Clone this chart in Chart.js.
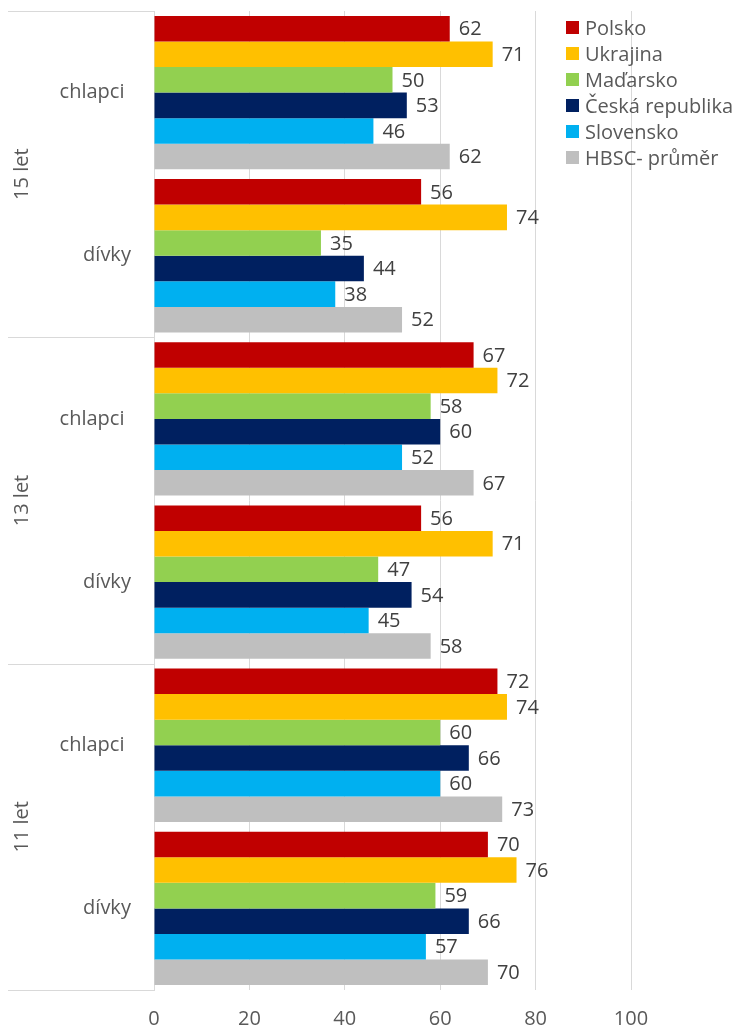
<!DOCTYPE html>
<html>
<head>
<meta charset="utf-8">
<script src="https://cdn.jsdelivr.net/npm/chart.js@4/dist/chart.umd.min.js"></script>
<style>
  html, body { margin: 0; padding: 0; background: #fff; }
  #wrap { position: relative; width: 740px; height: 1032px; }
  #legend { position: absolute; left: 566px; top: 14px; font-family: 'Open Sans', sans-serif; font-size: 20px; color: #595959; }
  #legend div { display: flex; align-items: center; height: 26px; white-space: nowrap; }
  #legend span.box { display: inline-block; width: 13px; height: 13px; margin-right: 6px; }
</style>
</head>
<body>
<div id="wrap">
  <canvas id="chart" width="740" height="1032"></canvas>
  <div id="legend"></div>
</div>
<script>
// Kategorie (shora dolů) a skupiny
const categories = ['chlapci', 'dívky', 'chlapci', 'dívky', 'chlapci', 'dívky'];
const groups = ['15 let', '13 let', '11 let'];
const xTicks = [0, 20, 40, 60, 80, 100];

// Hodnoty podle zemí
const polsko = [62, 56, 67, 56, 72, 70];
const ukrajina = [71, 74, 72, 71, 74, 76];
const madarsko = [50, 35, 58, 47, 60, 59];
const ceskaRepublika = [53, 44, 60, 54, 66, 66];
const slovensko = [46, 38, 52, 45, 60, 57];
const hbscPrumer = [62, 52, 67, 58, 73, 70];

const seriesNames = ['Polsko', 'Ukrajina', 'Maďarsko', 'Česká republika', 'Slovensko', 'HBSC- průměr'];
const seriesColors = ['#C00000', '#FFC000', '#92D050', '#002060', '#00B0F0', '#BFBFBF'];
const seriesValues = [polsko, ukrajina, madarsko, ceskaRepublika, slovensko, hbscPrumer];

const FONT = "'Open Sans', sans-serif";

// Popisky hodnot na konci sloupců
const valueLabels = {
  id: 'valueLabels',
  afterDatasetsDraw(chart) {
    const ctx = chart.ctx;
    ctx.save();
    ctx.font = '20px ' + FONT;
    ctx.fillStyle = '#404040';
    ctx.textAlign = 'left';
    ctx.textBaseline = 'middle';
    chart.data.datasets.forEach((ds, i) => {
      chart.getDatasetMeta(i).data.forEach((bar, j) => {
        ctx.fillText(ds.data[j], bar.x + 9, bar.y + 1);
      });
    });
    ctx.restore();
  }
};

// Dvouúrovňová osa Y (kategorie + věkové skupiny)
const groupAxis = {
  id: 'groupAxis',
  afterDraw(chart) {
    const ctx = chart.ctx;
    const y = chart.scales.y;
    const area = chart.chartArea;
    const step = (area.bottom - area.top) / categories.length;
    ctx.save();
    ctx.strokeStyle = '#D9D9D9';
    ctx.lineWidth = 1;
    for (let g = 0; g <= groups.length; g++) {
      const yy = Math.round(area.top + g * 2 * step) + 0.5;
      ctx.beginPath();
      ctx.moveTo(8, yy);
      ctx.lineTo(area.left, yy);
      ctx.stroke();
    }
    ctx.font = '20px ' + FONT;
    ctx.fillStyle = '#595959';
    ctx.textBaseline = 'middle';
    ctx.textAlign = 'center';
    categories.forEach((c, i) => {
      const cx = c === 'chlapci' ? 92 : 107;
      ctx.fillText(c, cx, y.getPixelForValue(i));
    });
    groups.forEach((g, i) => {
      const cy = area.top + (i * 2 + 1) * step;
      ctx.save();
      ctx.translate(22, cy);
      ctx.rotate(-Math.PI / 2);
      ctx.fillText(g, 0, 0);
      ctx.restore();
    });
    ctx.restore();
  }
};

const datasets = seriesNames.map((name, i) => ({
  label: name,
  data: seriesValues[i],
  backgroundColor: seriesColors[i],
  borderWidth: 0,
  categoryPercentage: 0.94,
  barPercentage: 1.0
}));

new Chart(document.getElementById('chart').getContext('2d'), {
  type: 'bar',
  data: { labels: categories, datasets: datasets },
  options: {
    indexAxis: 'y',
    responsive: false,
    animation: false,
    layout: { padding: { top: 11, right: 109, left: 0, bottom: 0 } },
    plugins: {
      legend: { display: false },
      tooltip: { enabled: false }
    },
    scales: {
      x: {
        min: 0,
        max: 100,
        afterBuildTicks: scale => { scale.ticks = xTicks.map(v => ({ value: v })); },
        grid: { color: '#D9D9D9', drawTicks: false },
        border: { display: false },
        ticks: { color: '#595959', font: { family: FONT, size: 20 }, padding: 17 },
        afterFit: scale => { scale.height = 42; }
      },
      y: {
        grid: { display: false },
        border: { color: '#D9D9D9' },
        ticks: { display: false },
        afterFit: scale => { scale.width = 154; }
      }
    }
  },
  plugins: [valueLabels, groupAxis]
});

// Legenda
const legend = document.getElementById('legend');
seriesNames.forEach((name, i) => {
  const row = document.createElement('div');
  row.innerHTML = '<span class="box" style="background:' + seriesColors[i] + '"></span>' + name;
  legend.appendChild(row);
});
</script>
</body>
</html>
